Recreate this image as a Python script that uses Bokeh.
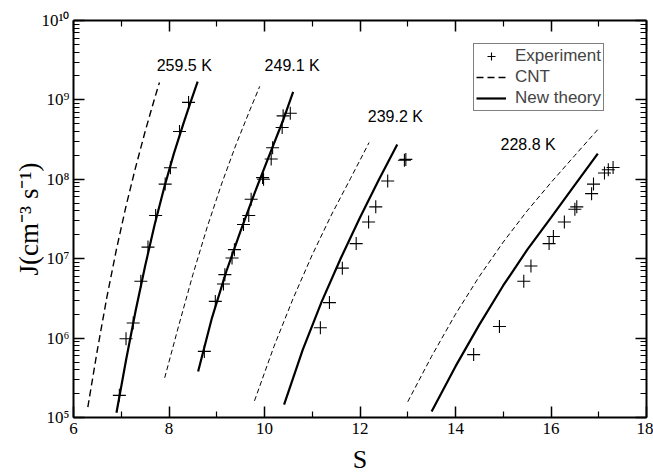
from bokeh.plotting import figure
from bokeh.models import (LinearAxis, LogAxis, FixedTicker, Range1d, Legend, LegendItem,
                          Label, CustomJSTickFormatter)
from bokeh.embed import file_html
from bokeh.resources import INLINE

# ---------------- data ----------------
temps = ["259.5 K", "249.1 K", "239.2 K", "228.8 K"]

exp_S_2595 = [6.96, 7.10, 7.25, 7.41, 7.56, 7.72, 7.92, 8.03, 8.22, 8.41]
exp_J_2595 = [1.9e5, 9.8e5, 1.55e6, 5.2e6, 1.4e7, 3.5e7, 8.7e7, 1.4e8, 4.0e8, 9.3e8]
new_S_2595 = [6.90, 7.10, 7.30, 7.50, 7.70, 7.90, 8.10, 8.30, 8.45, 8.60]
new_J_2595 = [1.15e5, 5.25e5, 2.19e6, 8.1e6, 2.69e7, 7.9e7, 2.09e8, 5.0e8, 9.3e8, 1.7e9]
cnt_S_2595 = [6.30, 6.50, 6.70, 6.90, 7.10, 7.30, 7.50, 7.70, 7.80]
cnt_J_2595 = [1.35e5, 7.1e5, 3.3e6, 1.32e7, 4.6e7, 1.41e8, 4.0e8, 1.05e9, 1.66e9]

exp_S_2491 = [8.74, 8.97, 9.14, 9.17, 9.32, 9.37, 9.56, 9.67, 9.72, 9.96, 9.98, 10.14, 10.17, 10.37, 10.39, 10.54]
exp_J_2491 = [6.8e5, 2.9e6, 4.8e6, 6.3e6, 1.02e7, 1.3e7, 2.7e7, 3.5e7, 5.6e7, 1.05e8, 1.0e8, 1.8e8, 2.5e8, 4.5e8, 6.3e8, 6.8e8]
new_S_2491 = [8.61, 8.90, 9.20, 9.50, 9.80, 10.10, 10.40, 10.60]
new_J_2491 = [3.8e5, 1.8e6, 6.9e6, 2.24e7, 6.9e7, 2.0e8, 5.75e8, 1.26e9]
cnt_S_2491 = [7.91, 8.20, 8.50, 8.80, 9.10, 9.40, 9.70, 9.90]
cnt_J_2491 = [3.16e5, 1.41e6, 6.3e6, 2.5e7, 8.7e7, 2.7e8, 7.6e8, 1.48e9]

exp_S_2392 = [11.17, 11.36, 11.63, 11.92, 12.18, 12.33, 12.58, 12.93, 12.96]
exp_J_2392 = [1.35e6, 2.8e6, 7.6e6, 1.55e7, 2.9e7, 4.5e7, 9.5e7, 1.74e8, 1.78e8]
new_S_2392 = [10.41, 10.80, 11.20, 11.60, 12.00, 12.40, 12.78]
new_J_2392 = [1.45e5, 7.1e5, 2.9e6, 1.02e7, 3.3e7, 1.0e8, 2.75e8]
cnt_S_2392 = [9.79, 10.20, 10.60, 11.00, 11.40, 11.80, 12.19]
cnt_J_2392 = [1.62e5, 7.9e5, 3.16e6, 1.12e7, 3.55e7, 1.02e8, 2.9e8]

exp_S_2288 = [14.38, 14.92, 15.43, 15.58, 15.96, 16.05, 16.28, 16.50, 16.54, 16.85, 16.89, 17.12, 17.20, 17.30]
exp_J_2288 = [6.2e5, 1.4e6, 5.2e6, 8.1e6, 1.55e7, 1.9e7, 2.9e7, 4.2e7, 4.5e7, 6.6e7, 8.7e7, 1.2e8, 1.32e8, 1.41e8]
new_S_2288 = [13.50, 14.00, 14.50, 15.00, 15.50, 16.00, 16.50, 16.98]
new_J_2288 = [1.19e5, 4.4e5, 1.48e6, 4.6e6, 1.29e7, 3.3e7, 8.5e7, 2.1e8]
cnt_S_2288 = [13.00, 13.50, 14.00, 14.50, 15.00, 15.50, 16.00, 16.50, 16.99]
cnt_J_2288 = [1.58e5, 5.9e5, 2.0e6, 6.0e6, 1.62e7, 4.0e7, 9.1e7, 2.0e8, 4.3e8]

label_S = [8.32, 10.58, 12.74, 15.52]
label_J = [2.7e9, 2.75e9, 6.2e8, 2.75e8]

x_ticks = [6, 8, 10, 12, 14, 16, 18]
x_minor = [7, 9, 11, 13, 15, 17]
y_ticks = [1e5, 1e6, 1e7, 1e8, 1e9, 1e10]
y_tick_labels = ["10\u2075", "10\u2076", "10\u2077", "10\u2078", "10\u2079", "10\u00b9\u2070"]

legend_labels = ["Experiment", "CNT", "New theory"]

# ---------------- figure ----------------
p = figure(width=653, height=476, x_range=Range1d(6, 18), y_range=Range1d(1e5, 1e10),
           y_axis_type="log", output_backend="svg", toolbar_location=None,
           min_border_left=73, min_border_right=7, min_border_top=20, min_border_bottom=56)
p.grid.visible = False
p.outline_line_color = None
p.background_fill_color = "white"
p.border_fill_color = "white"

y_minor = [k * d for d in y_ticks[:-1] for k in range(2, 10)]
xt = FixedTicker(ticks=x_ticks, minor_ticks=x_minor)
yt = FixedTicker(ticks=y_ticks, minor_ticks=y_minor)

serif = "Liberation Serif"
blank = CustomJSTickFormatter(code="return ''")

def style(ax):
    ax.axis_line_width = 2
    ax.axis_line_color = "black"
    ax.major_tick_in = 11
    ax.major_tick_out = 0
    ax.minor_tick_in = 6
    ax.minor_tick_out = 0
    ax.major_tick_line_width = 1.5
    ax.minor_tick_line_width = 1.2
    ax.major_tick_line_color = "black"
    ax.minor_tick_line_color = "black"

xa = p.xaxis[0]
xa.ticker = xt
style(xa)
xa.major_label_text_font = serif
xa.major_label_text_font_size = "17px"
xa.major_label_text_color = "black"
xa.major_label_standoff = 5
xa.axis_label = "S"
xa.axis_label_text_font = serif
xa.axis_label_text_font_style = "normal"
xa.axis_label_text_font_size = "26px"
xa.axis_label_text_color = "black"
xa.axis_label_standoff = 8

ya = p.yaxis[0]
ya.ticker = yt
style(ya)
ya.major_label_overrides = {t: l for t, l in zip(y_ticks, y_tick_labels)}
ya.major_label_text_font = serif
ya.major_label_text_font_size = "17px"
ya.major_label_text_color = "black"
ya.major_label_standoff = 4
ya.axis_label = "J(cm\u207b\u00b3 s\u207b\u00b9)"
ya.axis_label_text_font = serif
ya.axis_label_text_font_style = "normal"
ya.axis_label_text_font_size = "27px"
ya.axis_label_text_color = "black"
ya.axis_label_standoff = -6

top = LinearAxis(ticker=xt, formatter=blank)
style(top)
top.major_label_text_font_size = "1px"
top.major_label_standoff = 0
p.add_layout(top, "above")

right = LogAxis(ticker=yt, formatter=blank)
style(right)
right.major_label_text_font_size = "1px"
right.major_label_standoff = 0
p.add_layout(right, "right")

series = [
    (exp_S_2595, exp_J_2595, new_S_2595, new_J_2595, cnt_S_2595, cnt_J_2595),
    (exp_S_2491, exp_J_2491, new_S_2491, new_J_2491, cnt_S_2491, cnt_J_2491),
    (exp_S_2392, exp_J_2392, new_S_2392, new_J_2392, cnt_S_2392, cnt_J_2392),
    (exp_S_2288, exp_J_2288, new_S_2288, new_J_2288, cnt_S_2288, cnt_J_2288),
]

rend = None
for i, (eS, eJ, nS, nJ, cS, cJ) in enumerate(series):
    if i == 0:
        c = p.line(cS, cJ, line_color="black", line_width=1.4, line_dash="7 4")
    else:
        c = p.line(cS, cJ, line_color="black", line_width=1.0, line_dash="5 3")
    n = p.line(nS, nJ, line_color="black", line_width=2.2)
    e = p.scatter(eS, eJ, marker="cross", size=13, line_color="black", line_width=1.1)
    if rend is None:
        rend = (e, c, n)

for s, j, t in zip(label_S, label_J, temps):
    p.add_layout(Label(x=s, y=j, text=t, text_font="Liberation Sans", text_font_size="16px",
                       text_align="center", text_baseline="middle", text_color="black"))

legend = Legend(items=[LegendItem(label=legend_labels[0], renderers=[rend[0]]),
                       LegendItem(label=legend_labels[1], renderers=[rend[1]]),
                       LegendItem(label=legend_labels[2], renderers=[rend[2]])],
                location=(400, 306))
legend.label_text_font = "Liberation Sans"
legend.label_text_font_size = "17px"
legend.label_height = 20
legend.glyph_height = 20
legend.glyph_width = 30
legend.spacing = 1
legend.padding = 2
legend.margin = 0
legend.label_standoff = 9
legend.border_line_color = "black"
legend.border_line_width = 1
legend.background_fill_alpha = 1
p.add_layout(legend, "center")

open("out.html", "w").write(file_html(p, INLINE))
